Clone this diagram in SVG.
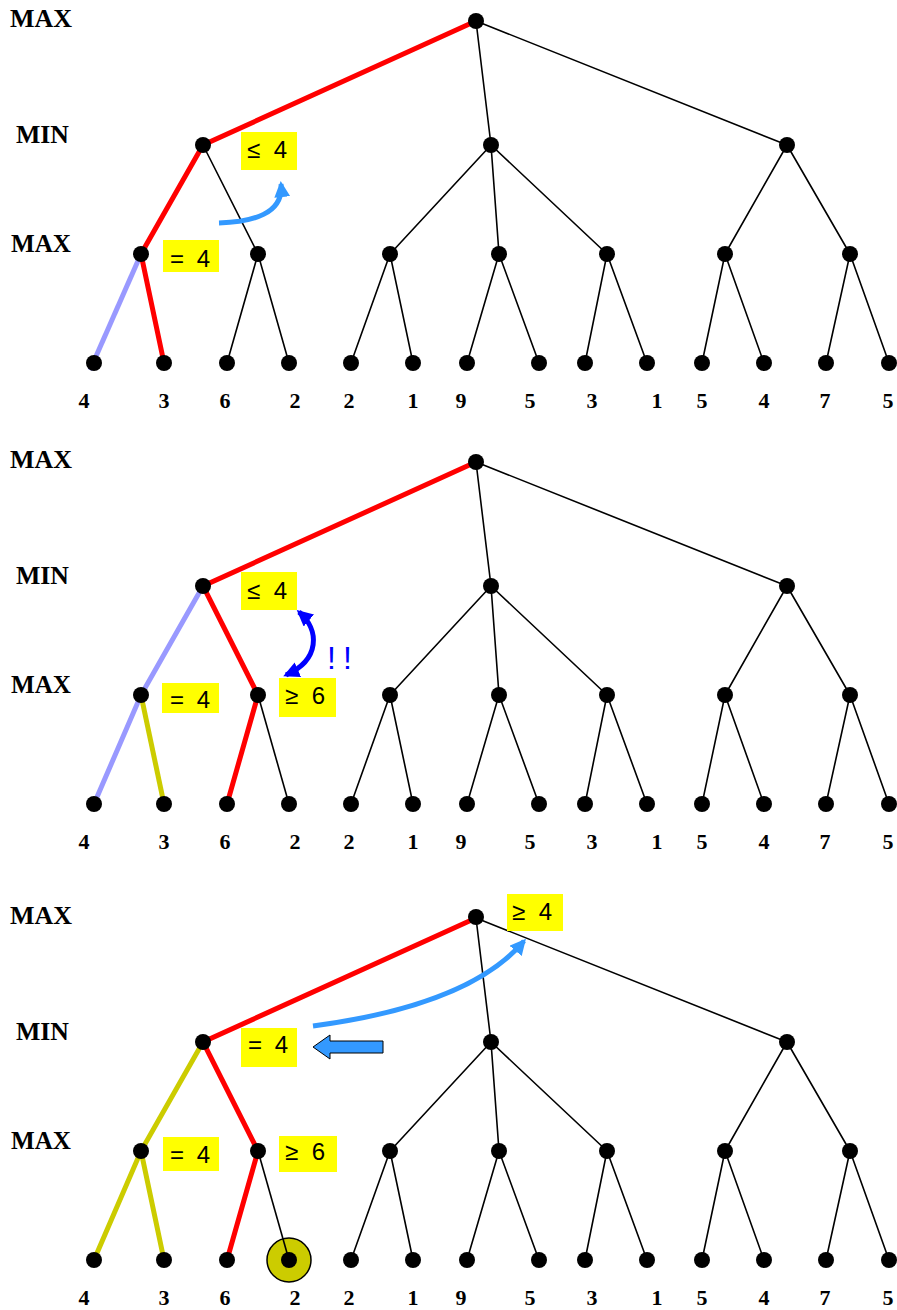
<svg xmlns="http://www.w3.org/2000/svg" width="897" height="1310" viewBox="0 0 897 1310">
<defs>
<style>
.e{stroke:#000;stroke-width:1.6;fill:none}
.r{stroke:#ff0000;stroke-width:5;fill:none;stroke-linecap:round}
.lb{stroke:#9999ff;stroke-width:5;fill:none}
.ol{stroke:#cccc00;stroke-width:5;fill:none}
.n{fill:#000}
.lvl{font-family:"Liberation Serif",serif;font-weight:bold;font-size:25px;fill:#000}
.leaf{font-family:"Liberation Serif",serif;font-weight:bold;font-size:22px;text-anchor:middle;fill:#000}
.box{fill:#ffff00}
.bt{font-family:"Liberation Sans",Arial,sans-serif;font-size:24px;text-anchor:middle;fill:#000}
.arl{stroke:#3399ff;stroke-width:5;fill:none}
.ard{stroke:#0000ff;stroke-width:5;fill:none}
</style>
<marker id="ahL" markerUnits="userSpaceOnUse" markerWidth="20" markerHeight="20" refX="13" refY="8" orient="auto">
<path d="M0,0 L16,8 L0,16 z" fill="#3399ff"/>
</marker>
<marker id="ahD" markerUnits="userSpaceOnUse" markerWidth="20" markerHeight="20" refX="13" refY="8" orient="auto-start-reverse">
<path d="M0,0 L16,8 L0,16 z" fill="#0000ff"/>
</marker>
</defs>
<rect width="897" height="1310" fill="#fff"/>

<!-- highlight behind leaf in panel 3 -->
<circle cx="289" cy="1260" r="22" fill="#cccc00" stroke="#000" stroke-width="1.5"/>

<g id="connectors">
<g id="conn-p1">
<path class="e" d="M476,21 L491,145 M476,21 L787,145 M491,145 L390,254 M491,145 L499,254 M491,145 L607,254 M787,145 L725,254 M787,145 L850,254 M390,254 L351,363 M390,254 L413,363 M499,254 L467,363 M499,254 L539,363 M607,254 L585,363 M607,254 L647,363 M725,254 L702,363 M725,254 L764,363 M850,254 L826,363 M850,254 L889,363"/>
<path class="e" d="M203,145 L258,254 M258,254 L227,363 M258,254 L289,363"/>
<path class="lb" d="M141,254 L90,370"/>
<path class="r" d="M476,21 L203,145 L141,254 L164,363"/>
</g>
<g id="conn-p2" transform="translate(0,441)">
<path class="e" d="M476,21 L491,145 M476,21 L787,145 M491,145 L390,254 M491,145 L499,254 M491,145 L607,254 M787,145 L725,254 M787,145 L850,254 M390,254 L351,363 M390,254 L413,363 M499,254 L467,363 M499,254 L539,363 M607,254 L585,363 M607,254 L647,363 M725,254 L702,363 M725,254 L764,363 M850,254 L826,363 M850,254 L889,363"/>
<path class="e" d="M258,254 L289,363"/>
<path class="lb" d="M203,145 L141,254 L94,363"/>
<path class="ol" d="M141,254 L164,363"/>
<path class="r" d="M476,21 L203,145 L258,254 L227,363"/>
</g>
<g id="conn-p3" transform="translate(0,897)">
<path class="e" d="M476,21 L491,145 M476,21 L787,145 M491,145 L390,254 M491,145 L499,254 M491,145 L607,254 M787,145 L725,254 M787,145 L850,254 M390,254 L351,363 M390,254 L413,363 M499,254 L467,363 M499,254 L539,363 M607,254 L585,363 M607,254 L647,363 M725,254 L702,363 M725,254 L764,363 M850,254 L826,363 M850,254 L889,363"/>
<path class="e" d="M258,254 L289,363"/>
<path class="ol" d="M203,145 L141,254 L94,363 M141,254 L164,363"/>
<path class="r" d="M476,21 L203,145 L258,254 L227,363"/>
</g>
<path id="arrow-p1" class="arl" d="M219,223 C252,222 284,214 281,184" marker-end="url(#ahL)"/>
<path id="arrow-p2" class="ard" d="M299,612 C320,630 320,660 286,675" marker-start="url(#ahD)" marker-end="url(#ahD)"/>
<path id="arrow-p3" class="arl" d="M313,1026 Q470,1005 524,941" marker-end="url(#ahL)"/>
<polygon id="block-arrow" points="313,1047 330,1035 330,1041 383,1041 383,1053 330,1053 330,1059" fill="#3399ff" stroke="#000" stroke-width="1"/>
</g>

<!-- Panel 1 nodes -->
<g id="p1">
<g id="p1-root"><circle class="n" cx="476" cy="21" r="8"/></g>
<g id="p1-min1"><circle class="n" cx="203" cy="145" r="8"/></g>
<g id="p1-min2"><circle class="n" cx="491" cy="145" r="8"/></g>
<g id="p1-min3"><circle class="n" cx="787" cy="145" r="8"/></g>
<g id="p1-max1"><circle class="n" cx="141" cy="254" r="8"/></g>
<g id="p1-max2"><circle class="n" cx="258" cy="254" r="8"/></g>
<g id="p1-max3"><circle class="n" cx="390" cy="254" r="8"/></g>
<g id="p1-max4"><circle class="n" cx="499" cy="254" r="8"/></g>
<g id="p1-max5"><circle class="n" cx="607" cy="254" r="8"/></g>
<g id="p1-max6"><circle class="n" cx="725" cy="254" r="8"/></g>
<g id="p1-max7"><circle class="n" cx="850" cy="254" r="8"/></g>
<g id="p1-l1"><circle class="n" cx="94" cy="363" r="8"/><text class="leaf" x="84" y="408">4</text></g>
<g id="p1-l2"><circle class="n" cx="164" cy="363" r="8"/><text class="leaf" x="164" y="408">3</text></g>
<g id="p1-l3"><circle class="n" cx="227" cy="363" r="8"/><text class="leaf" x="225" y="408">6</text></g>
<g id="p1-l4"><circle class="n" cx="289" cy="363" r="8"/><text class="leaf" x="295" y="408">2</text></g>
<g id="p1-l5"><circle class="n" cx="351" cy="363" r="8"/><text class="leaf" x="349" y="408">2</text></g>
<g id="p1-l6"><circle class="n" cx="413" cy="363" r="8"/><text class="leaf" x="413" y="408">1</text></g>
<g id="p1-l7"><circle class="n" cx="467" cy="363" r="8"/><text class="leaf" x="461" y="408">9</text></g>
<g id="p1-l8"><circle class="n" cx="539" cy="363" r="8"/><text class="leaf" x="530" y="408">5</text></g>
<g id="p1-l9"><circle class="n" cx="585" cy="363" r="8"/><text class="leaf" x="592" y="408">3</text></g>
<g id="p1-l10"><circle class="n" cx="647" cy="363" r="8"/><text class="leaf" x="657" y="408">1</text></g>
<g id="p1-l11"><circle class="n" cx="702" cy="363" r="8"/><text class="leaf" x="702" y="408">5</text></g>
<g id="p1-l12"><circle class="n" cx="764" cy="363" r="8"/><text class="leaf" x="764" y="408">4</text></g>
<g id="p1-l13"><circle class="n" cx="826" cy="363" r="8"/><text class="leaf" x="825" y="408">7</text></g>
<g id="p1-l14"><circle class="n" cx="889" cy="363" r="8"/><text class="leaf" x="888" y="408">5</text></g>
<text class="lvl" x="10" y="27" textLength="62" lengthAdjust="spacingAndGlyphs">MAX</text>
<text class="lvl" x="16" y="143" textLength="53" lengthAdjust="spacingAndGlyphs">MIN</text>
<text class="lvl" x="11" y="252" textLength="60" lengthAdjust="spacingAndGlyphs">MAX</text>
<g id="p1-lab-min"><rect class="box" x="241" y="132" width="56" height="38"/><text class="bt" x="267" y="158" textLength="40">≤ 4</text></g>
<g id="p1-lab-max"><rect class="box" x="163" y="240" width="56" height="32"/><text class="bt" x="190" y="267" textLength="40">= 4</text></g>
</g>

<!-- Panel 2 nodes -->
<g id="p2" transform="translate(0,441)">
<g id="p2-root"><circle class="n" cx="476" cy="21" r="8"/></g>
<g id="p2-min1"><circle class="n" cx="203" cy="145" r="8"/></g>
<g id="p2-min2"><circle class="n" cx="491" cy="145" r="8"/></g>
<g id="p2-min3"><circle class="n" cx="787" cy="145" r="8"/></g>
<g id="p2-max1"><circle class="n" cx="141" cy="254" r="8"/></g>
<g id="p2-max2"><circle class="n" cx="258" cy="254" r="8"/></g>
<g id="p2-max3"><circle class="n" cx="390" cy="254" r="8"/></g>
<g id="p2-max4"><circle class="n" cx="499" cy="254" r="8"/></g>
<g id="p2-max5"><circle class="n" cx="607" cy="254" r="8"/></g>
<g id="p2-max6"><circle class="n" cx="725" cy="254" r="8"/></g>
<g id="p2-max7"><circle class="n" cx="850" cy="254" r="8"/></g>
<g id="p2-l1"><circle class="n" cx="94" cy="363" r="8"/><text class="leaf" x="84" y="408">4</text></g>
<g id="p2-l2"><circle class="n" cx="164" cy="363" r="8"/><text class="leaf" x="164" y="408">3</text></g>
<g id="p2-l3"><circle class="n" cx="227" cy="363" r="8"/><text class="leaf" x="225" y="408">6</text></g>
<g id="p2-l4"><circle class="n" cx="289" cy="363" r="8"/><text class="leaf" x="295" y="408">2</text></g>
<g id="p2-l5"><circle class="n" cx="351" cy="363" r="8"/><text class="leaf" x="349" y="408">2</text></g>
<g id="p2-l6"><circle class="n" cx="413" cy="363" r="8"/><text class="leaf" x="413" y="408">1</text></g>
<g id="p2-l7"><circle class="n" cx="467" cy="363" r="8"/><text class="leaf" x="461" y="408">9</text></g>
<g id="p2-l8"><circle class="n" cx="539" cy="363" r="8"/><text class="leaf" x="530" y="408">5</text></g>
<g id="p2-l9"><circle class="n" cx="585" cy="363" r="8"/><text class="leaf" x="592" y="408">3</text></g>
<g id="p2-l10"><circle class="n" cx="647" cy="363" r="8"/><text class="leaf" x="657" y="408">1</text></g>
<g id="p2-l11"><circle class="n" cx="702" cy="363" r="8"/><text class="leaf" x="702" y="408">5</text></g>
<g id="p2-l12"><circle class="n" cx="764" cy="363" r="8"/><text class="leaf" x="764" y="408">4</text></g>
<g id="p2-l13"><circle class="n" cx="826" cy="363" r="8"/><text class="leaf" x="825" y="408">7</text></g>
<g id="p2-l14"><circle class="n" cx="889" cy="363" r="8"/><text class="leaf" x="888" y="408">5</text></g>
<text class="lvl" x="10" y="27" textLength="62" lengthAdjust="spacingAndGlyphs">MAX</text>
<text class="lvl" x="16" y="143" textLength="53" lengthAdjust="spacingAndGlyphs">MIN</text>
<text class="lvl" x="11" y="252" textLength="60" lengthAdjust="spacingAndGlyphs">MAX</text>
<g id="p2-lab-min"><rect class="box" x="241" y="131" width="56" height="38"/><text class="bt" x="267" y="158" textLength="40">≤ 4</text></g>
<g id="p2-lab-max1"><rect class="box" x="162" y="242" width="57" height="30"/><text class="bt" x="190" y="267" textLength="40">= 4</text></g>
<g id="p2-lab-max2"><rect class="box" x="279" y="237" width="57" height="39"/><text class="bt" x="305" y="263" textLength="40">≥ 6</text></g>
<text x="327" y="228" font-family="Liberation Sans, Arial, sans-serif" font-size="32" fill="#0000ff" textLength="25" lengthAdjust="spacing">!!</text>
</g>

<!-- Panel 3 nodes -->
<g id="p3" transform="translate(0,897)">
<g id="p3-root"><circle class="n" cx="476" cy="20" r="8"/></g>
<g id="p3-min1"><circle class="n" cx="203" cy="145" r="8"/></g>
<g id="p3-min2"><circle class="n" cx="491" cy="145" r="8"/></g>
<g id="p3-min3"><circle class="n" cx="787" cy="145" r="8"/></g>
<g id="p3-max1"><circle class="n" cx="141" cy="254" r="8"/></g>
<g id="p3-max2"><circle class="n" cx="258" cy="254" r="8"/></g>
<g id="p3-max3"><circle class="n" cx="390" cy="254" r="8"/></g>
<g id="p3-max4"><circle class="n" cx="499" cy="254" r="8"/></g>
<g id="p3-max5"><circle class="n" cx="607" cy="254" r="8"/></g>
<g id="p3-max6"><circle class="n" cx="725" cy="254" r="8"/></g>
<g id="p3-max7"><circle class="n" cx="850" cy="254" r="8"/></g>
<g id="p3-l1"><circle class="n" cx="94" cy="363" r="8"/><text class="leaf" x="84" y="408">4</text></g>
<g id="p3-l2"><circle class="n" cx="164" cy="363" r="8"/><text class="leaf" x="164" y="408">3</text></g>
<g id="p3-l3"><circle class="n" cx="227" cy="363" r="8"/><text class="leaf" x="225" y="408">6</text></g>
<g id="p3-l4"><circle class="n" cx="289" cy="363" r="8"/><text class="leaf" x="295" y="408">2</text></g>
<g id="p3-l5"><circle class="n" cx="351" cy="363" r="8"/><text class="leaf" x="349" y="408">2</text></g>
<g id="p3-l6"><circle class="n" cx="413" cy="363" r="8"/><text class="leaf" x="413" y="408">1</text></g>
<g id="p3-l7"><circle class="n" cx="467" cy="363" r="8"/><text class="leaf" x="461" y="408">9</text></g>
<g id="p3-l8"><circle class="n" cx="539" cy="363" r="8"/><text class="leaf" x="530" y="408">5</text></g>
<g id="p3-l9"><circle class="n" cx="585" cy="363" r="8"/><text class="leaf" x="592" y="408">3</text></g>
<g id="p3-l10"><circle class="n" cx="647" cy="363" r="8"/><text class="leaf" x="657" y="408">1</text></g>
<g id="p3-l11"><circle class="n" cx="702" cy="363" r="8"/><text class="leaf" x="702" y="408">5</text></g>
<g id="p3-l12"><circle class="n" cx="764" cy="363" r="8"/><text class="leaf" x="764" y="408">4</text></g>
<g id="p3-l13"><circle class="n" cx="826" cy="363" r="8"/><text class="leaf" x="825" y="408">7</text></g>
<g id="p3-l14"><circle class="n" cx="889" cy="363" r="8"/><text class="leaf" x="888" y="408">5</text></g>
<text class="lvl" x="10" y="27" textLength="62" lengthAdjust="spacingAndGlyphs">MAX</text>
<text class="lvl" x="16" y="143" textLength="53" lengthAdjust="spacingAndGlyphs">MIN</text>
<text class="lvl" x="11" y="252" textLength="60" lengthAdjust="spacingAndGlyphs">MAX</text>
<g id="p3-lab-root"><rect class="box" x="507" y="-3" width="56" height="37"/><text class="bt" x="532" y="23" textLength="40">≥ 4</text></g>
<g id="p3-lab-min"><rect class="box" x="241" y="131" width="56" height="39"/><text class="bt" x="268" y="156" textLength="40">= 4</text></g>
<g id="p3-lab-max1"><rect class="box" x="163" y="240" width="56" height="34"/><text class="bt" x="190" y="266" textLength="40">= 4</text></g>
<g id="p3-lab-max2"><rect class="box" x="279" y="239" width="58" height="36"/><text class="bt" x="305" y="263" textLength="40">≥ 6</text></g>
</g>
</svg>
